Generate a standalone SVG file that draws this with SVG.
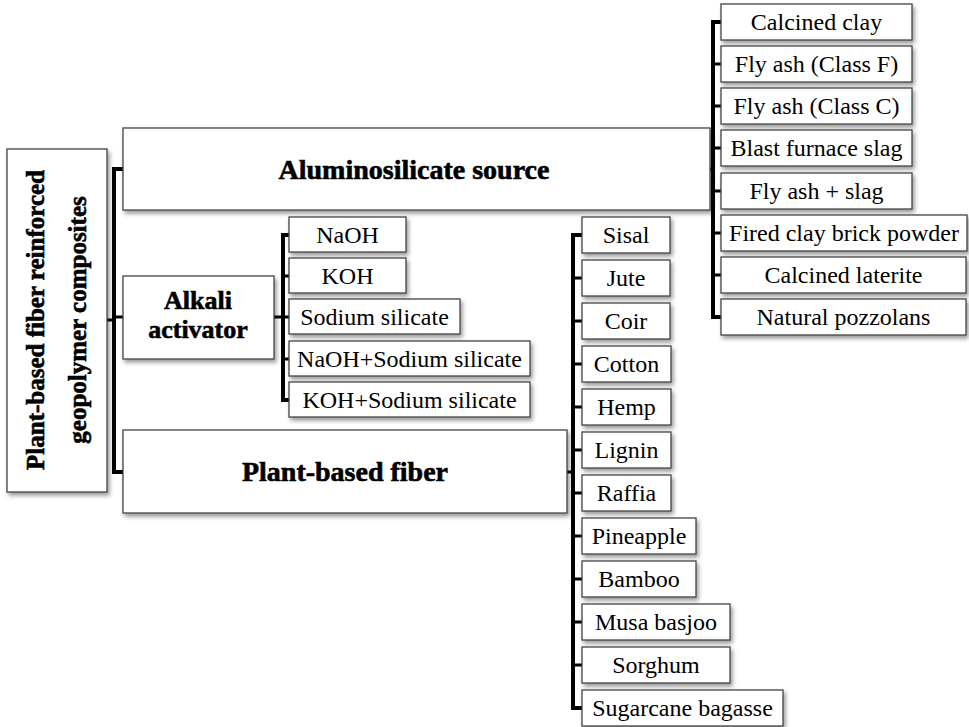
<svg xmlns="http://www.w3.org/2000/svg" width="969" height="727" viewBox="0 0 969 727">
<defs>
<filter id="sh" x="-10%" y="-10%" width="120%" height="130%">
<feDropShadow dx="2" dy="3" stdDeviation="2" flood-color="#000" flood-opacity="0.4"/>
</filter>
<style>
.box{fill:#fff;stroke:#444;stroke-width:1.3;filter:url(#sh)}
.lbl{font-family:"Liberation Serif","Times New Roman",serif;font-size:24px;fill:#000;text-anchor:middle}
.big{font-family:"Liberation Serif","Times New Roman",serif;font-size:27px;font-weight:bold;fill:#000;stroke:#000;stroke-width:0.6;text-anchor:middle}
.br{fill:none;stroke:#000;stroke-width:4;stroke-linejoin:miter;stroke-linecap:square}
.st{fill:none;stroke:#000;stroke-width:3}
</style>
</defs>
<rect width="969" height="727" fill="#fff"/>
<g id="connectors">
<path class="br" d="M123,169 H114 V472 H123"/>
<path class="st" d="M107,320 H114 M114,317 H123"/>
<path class="br" d="M289,235 H283 V400 H289"/>
<path class="st" d="M274,317 H283 M283,276 H289 M283,317 H289 M283,359 H289"/>
<path class="br" d="M582,235 H573 V708 H582"/>
<path class="st" d="M567,472 H573 M573,278 H582 M573,321 H582 M573,364 H582 M573,407 H582 M573,450 H582 M573,493 H582 M573,536 H582 M573,579 H582 M573,622 H582 M573,665 H582"/>
<path class="br" d="M721,22 H713 V317 H721"/>
<path class="st" d="M710,169 H713 M713,64 H721 M713,106 H721 M713,148 H721 M713,191 H721 M713,233 H721 M713,275 H721"/>
</g>
<g id="root">
<rect class="box" x="7" y="149" width="100" height="343"/>
<text class="big" transform="translate(44,320) rotate(-90)" style="font-size:25px">Plant-based fiber reinforced</text>
<text class="big" transform="translate(86,320) rotate(-90)" style="font-size:25px">geopolymer composites</text>
</g>
<g id="alumino">
<rect class="box" x="123" y="128" width="587" height="82"/>
<text class="big" x="414" y="179" style="font-size:28px">Aluminosilicate source</text>
</g>
<g id="alkali">
<rect class="box" x="123" y="276" width="151" height="83"/>
<text class="big" x="198" y="309" style="font-size:26px">Alkali</text>
<text class="big" x="198" y="338" style="font-size:26px">activator</text>
</g>
<g id="plant">
<rect class="box" x="123" y="430" width="444" height="83"/>
<text class="big" x="345" y="481" style="font-size:28px">Plant-based fiber</text>
</g>
<g id="naoh"><rect class="box" x="289" y="217" width="117" height="35"/><text class="lbl" x="347.5" y="243">NaOH</text></g>
<g id="koh"><rect class="box" x="289" y="258" width="117" height="35"/><text class="lbl" x="347.5" y="284">KOH</text></g>
<g id="ss"><rect class="box" x="289" y="299" width="171" height="35"/><text class="lbl" x="374.5" y="325">Sodium silicate</text></g>
<g id="naohss"><rect class="box" x="289" y="341" width="241" height="35"/><text class="lbl" x="409.5" y="367">NaOH+Sodium silicate</text></g>
<g id="kohss"><rect class="box" x="289" y="382" width="241" height="35"/><text class="lbl" x="409.5" y="408">KOH+Sodium silicate</text></g>
<g id="sisal"><rect class="box" x="582" y="217" width="88" height="36"/><text class="lbl" x="626" y="243">Sisal</text></g>
<g id="jute"><rect class="box" x="582" y="260" width="88" height="36"/><text class="lbl" x="626" y="286">Jute</text></g>
<g id="coir"><rect class="box" x="582" y="303" width="88" height="36"/><text class="lbl" x="626" y="329">Coir</text></g>
<g id="cotton"><rect class="box" x="582" y="346" width="89" height="36"/><text class="lbl" x="626.5" y="372">Cotton</text></g>
<g id="hemp"><rect class="box" x="582" y="389" width="89" height="36"/><text class="lbl" x="626.5" y="415">Hemp</text></g>
<g id="lignin"><rect class="box" x="582" y="432" width="89" height="36"/><text class="lbl" x="626.5" y="458">Lignin</text></g>
<g id="raffia"><rect class="box" x="582" y="475" width="89" height="36"/><text class="lbl" x="626.5" y="501">Raffia</text></g>
<g id="pineapple"><rect class="box" x="582" y="518" width="114" height="36"/><text class="lbl" x="639" y="544">Pineapple</text></g>
<g id="bamboo"><rect class="box" x="582" y="561" width="114" height="36"/><text class="lbl" x="639" y="587">Bamboo</text></g>
<g id="musa"><rect class="box" x="582" y="604" width="148" height="36"/><text class="lbl" x="656" y="630">Musa basjoo</text></g>
<g id="sorghum"><rect class="box" x="582" y="647" width="148" height="36"/><text class="lbl" x="656" y="673">Sorghum</text></g>
<g id="sugarcane"><rect class="box" x="582" y="690" width="201" height="36"/><text class="lbl" x="682.5" y="716">Sugarcane bagasse</text></g>
<g id="calclay"><rect class="box" x="721" y="4" width="191" height="36"/><text class="lbl" x="816.5" y="30">Calcined clay</text></g>
<g id="flyf"><rect class="box" x="721" y="46" width="191" height="36"/><text class="lbl" x="816.5" y="72">Fly ash (Class F)</text></g>
<g id="flyc"><rect class="box" x="721" y="88" width="191" height="36"/><text class="lbl" x="816.5" y="114">Fly ash (Class C)</text></g>
<g id="blast"><rect class="box" x="721" y="130" width="191" height="36"/><text class="lbl" x="816.5" y="156">Blast furnace slag</text></g>
<g id="flyslag"><rect class="box" x="721" y="173" width="191" height="36"/><text class="lbl" x="816.5" y="199">Fly ash + slag</text></g>
<g id="brick"><rect class="box" x="721" y="215" width="246" height="36"/><text class="lbl" x="844" y="241">Fired clay brick powder</text></g>
<g id="laterite"><rect class="box" x="721" y="257" width="245" height="36"/><text class="lbl" x="843.5" y="283">Calcined laterite</text></g>
<g id="pozz"><rect class="box" x="721" y="299" width="245" height="36"/><text class="lbl" x="843.5" y="325">Natural pozzolans</text></g>
</svg>
